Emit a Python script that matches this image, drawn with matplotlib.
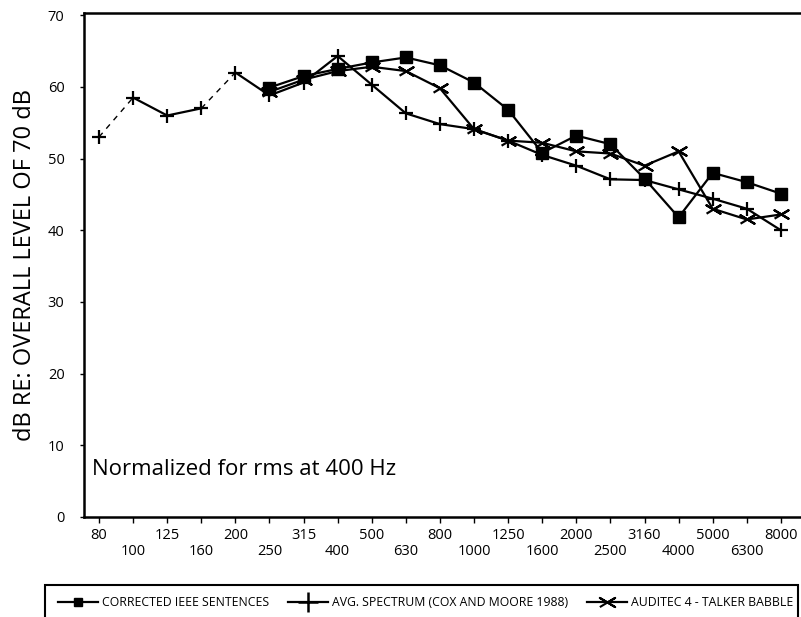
import numpy as np
import matplotlib
matplotlib.use("Agg")
import matplotlib.pyplot as plt
from matplotlib.lines import Line2D
from matplotlib.patches import Rectangle

plt.rcParams['font.family'] = ['Open Sans', 'DejaVu Sans']

# ---------------- DATA ----------------
freqs = ["80", "100", "125", "160", "200", "250", "315", "400", "500", "630", "800",
         "1000", "1250", "1600", "2000", "2500", "3160", "4000", "5000", "6300", "8000"]

# corrected IEEE sentences (250 Hz .. 8000 Hz)
ieee = [59.9, 61.5, 62.5, 63.4, 64.1, 63.0, 60.6, 56.8, 50.8, 53.2, 52.0,
        47.2, 41.8, 48.0, 46.7, 45.1]
# avg. spectrum, Cox and Moore 1988 (80 Hz .. 8000 Hz)
avg = [53.0, 58.5, 56.0, 57.0, 62.0, 58.8, 60.6, 64.3, 60.3, 56.3, 54.8,
       54.1, 52.5, 50.5, 49.0, 47.1, 47.0, 45.7, 44.4, 43.0, 40.0]
# auditec 4-talker babble (250 Hz .. 8000 Hz)
babble = [59.3, 61.0, 62.2, 62.8, 62.2, 59.8, 54.1, 52.5, 52.2, 51.0, 50.7,
          49.0, 51.0, 43.0, 41.5, 42.2]

labels = ["CORRECTED IEEE SENTENCES", "AVG. SPECTRUM (COX AND MOORE 1988)",
          "AUDITEC 4 - TALKER BABBLE"]

# ---------------- PLOT ----------------
x_all = np.arange(len(freqs))
x_hi = x_all[5:]

fig = plt.figure(figsize=(8.01, 6.17), dpi=100)
ax = fig.add_axes([84/801, 100/617, 1 - 84/801, 504/617])

lw = 1.6
# flattened "x" marker like the scanned original
flat_x = [(-1, -0.6), (1, 0.6), (0, 0), (-1, 0.6), (1, -0.6), (0, 0)]

# avg spectrum: dashed joins 80-100 and 160-200
ax.plot(x_all[0:2], avg[0:2], color='black', lw=1.0, ls=(0, (4, 4)))
ax.plot(x_all[3:5], avg[3:5], color='black', lw=1.0, ls=(0, (4, 4)))
ax.plot(x_all[1:4], avg[1:4], color='black', lw=lw)
ax.plot(x_all[4:], avg[4:], color='black', lw=lw)
ax.plot(x_all, avg, ls='none', marker='+', ms=10, mew=1.6, color='black')

ax.plot(x_hi, babble, color='black', lw=lw, marker=flat_x, ms=10, mew=1.6,
        mfc='none')
ax.plot(x_hi, ieee, color='black', lw=lw, marker='s', ms=8)

ax.set_xlim(-0.44, 20.59)
ax.set_ylim(0, 70.3)

ax.set_yticks(np.arange(0, 71, 10))
ax.tick_params(axis='y', length=3, width=1, pad=11, labelsize=10.5)

ax.set_xticks(x_all[::2])
ax.set_xticklabels(freqs[::2])
ax.set_xticks(x_all[1::2], minor=True)
ax.set_xticklabels(freqs[1::2], minor=True)
ax.tick_params(axis='x', which='major', length=4, width=1, pad=4, labelsize=10.5)
ax.tick_params(axis='x', which='minor', length=4, width=1, pad=15.5, labelsize=10.5)

for s in ['left', 'top', 'bottom']:
    ax.spines[s].set_linewidth(1.8)
ax.spines['right'].set_visible(False)

ax.set_ylabel("dB RE: OVERALL LEVEL OF 70 dB", fontsize=17, labelpad=8)
ax.text(0.011, 0.095, "Normalized for rms at 400 Hz", transform=ax.transAxes,
        fontsize=16, va='center', ha='left')

# legend box runs off the bottom edge
fig.patches.append(Rectangle((45/801, -0.05), 753/801, 0.05 + 32/617,
                             transform=fig.transFigure, fill=False,
                             lw=1.5, ec='black'))
handles = [Line2D([], [], color='black', lw=lw, marker='s', ms=6),
           Line2D([], [], color='black', lw=lw, marker='+', ms=14, mew=1.8),
           Line2D([], [], color='black', lw=lw, marker=flat_x, ms=11, mew=1.5)]
fig.legend(handles, labels, loc='center left', bbox_to_anchor=(58/801, 14/617),
           ncol=3, frameon=False, fontsize=8.8, handlelength=3.3,
           handletextpad=0.3, columnspacing=1.55, borderpad=0, borderaxespad=0)

fig.savefig("out.png", dpi=100)
